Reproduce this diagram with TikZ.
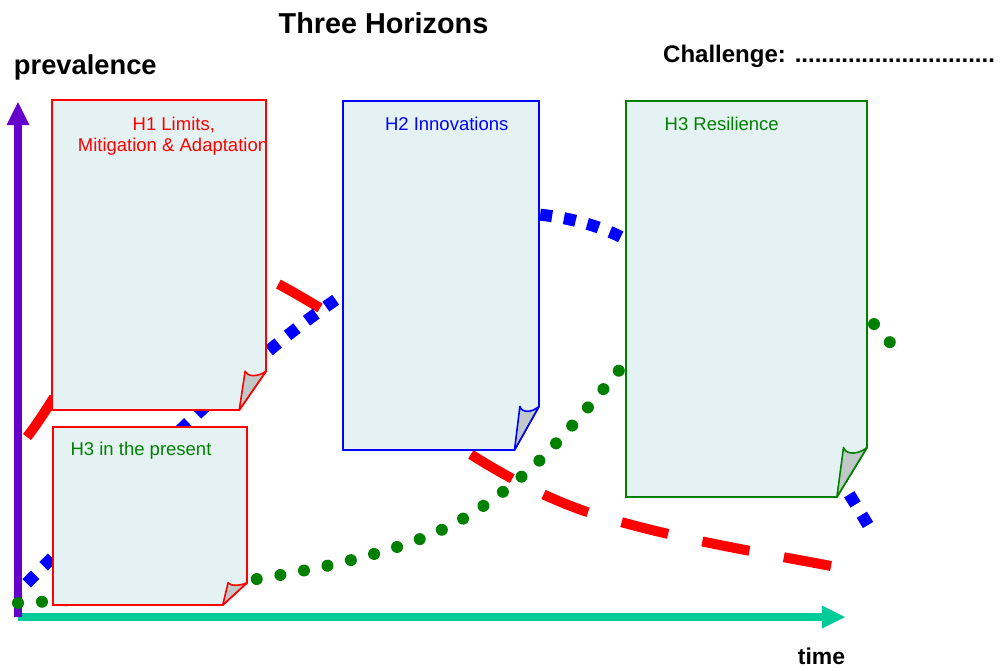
\documentclass[tikz,border=0pt]{standalone}
\usepackage{fontspec}
\setmainfont{Liberation Sans}
\usetikzlibrary{arrows.meta}
\definecolor{hred}{RGB}{255,0,0}
\definecolor{hblue}{RGB}{0,0,255}
\definecolor{hgreen}{RGB}{0,128,0}
\definecolor{axpurple}{RGB}{102,0,204}
\definecolor{axteal}{RGB}{0,204,153}
\definecolor{paperfill}{RGB}{228,242,243}
\definecolor{foldfill}{RGB}{192,200,200}
\newcommand{\foldbox}[5]{%
  \pgfmathsetmacro\fbdx{0.125*(#3-#1)}%
  \pgfmathsetmacro\fbdy{0.125*(#4-#2)}%
  \filldraw[paper, draw=#5] (#1,#2) -- (#3,#2) -- (#3,#4-\fbdy) -- (#3-\fbdx,#4) -- (#1,#4) -- cycle;
  \filldraw[fold, draw=#5] (#3-\fbdx,#4) -- (#3-0.78*\fbdx,#4-\fbdy) .. controls (#3-0.7*\fbdx,#4-0.85*\fbdy) and (#3-0.3*\fbdx,#4-0.85*\fbdy) .. (#3,#4-\fbdy) -- cycle;
}
\tikzset{
  paper/.style={fill=paperfill, line width=1.8pt, line join=miter},
  fold/.style={fill=foldfill, line width=1.6pt, line join=round},
  redcurve/.style={draw=hred, line width=10pt, dash pattern=on 48pt off 35pt},
  bluecurve/.style={draw=hblue, line width=12pt, dash pattern=on 12pt off 12pt},
  greencurve/.style={draw=hgreen, line width=12pt, line cap=round, dash pattern=on 0.01pt off 24pt},
  axisline/.style={line width=7.5pt},
  axarrow/.style={-{Triangle[length=23pt,width=23pt,line width=0pt]}},
  boxlabel/.style={anchor=base, inner sep=0pt, font=\fontsize{18.5}{22}\selectfont},
  boldlabel/.style={anchor=base, inner sep=0pt, text=black},
}
\begin{document}
\begin{tikzpicture}[x=1pt,y=-1pt]
\useasboundingbox (0,0) rectangle (1000,670);
% H1 curve (red, long dashes): drawn in three stretches that meet behind the sheets
\coordinate (rpeak) at (185,255);
\coordinate (rsplit) at (393.5,379.25);
\draw[redcurve] (27,437) .. controls (70,382) and (125,255) .. (rpeak);
\draw[redcurve] (320,308) .. controls (275,281) and (230,255) .. (rpeak);
\draw[redcurve] (831,566) .. controls (754,551.4) and (677,539) .. (600,516)
  .. controls (556,503) and (511,480) .. (467,452)
  .. controls (442.5,436.5) and (418,407.75) .. (rsplit);
% H2 curve (blue, square dots)
\draw[bluecurve] (868,525) .. controls (775,370) and (694,271) .. (617,235)
  .. controls (585,220) and (545,213) .. (510,213)
  .. controls (450,213) and (391,261) .. (331,303)
  .. controls (285,335) and (239,375) .. (193,418)
  .. controls (140,468) and (80,530) .. (18,592);
% axes
\coordinate (O) at (18,617);
\coordinate (ytip) at (18,102);
\coordinate (xtip) at (845,617);
\draw[axisline, axteal, axarrow] (O) -- (xtip);
\draw[axisline, axpurple, axarrow] (O) -- (ytip);
% H3 curve (green, round dots)
\draw[greencurve] (18,603) .. controls (120,598) and (200,590) .. (257,579)
  .. controls (311,570) and (366,559) .. (420,539)
  .. controls (459.7,524.3) and (499.3,498.3) .. (539,461)
  .. controls (568,432) and (597,397) .. (626,362)
  .. controls (706,266) and (787,228) .. (867,316) -- (894,347);
% sheets
\foldbox{52}{100}{266}{410}{hred}
\foldbox{53}{427}{247}{605}{hred}
\foldbox{343}{101}{539}{450}{hblue}
\foldbox{626}{101}{867}{497}{hgreen}
% labels
\node[boxlabel, text=hred] (h1a) at (173.8,130) {H1 Limits,};
\node[boxlabel, text=hred] (h1b) at (173,151.7) {Mitigation \& Adaptation};
\node[boxlabel, text=hblue] (h2) at (446.7,130) {H2 Innovations};
\node[boxlabel, text=hgreen] (h3) at (721.7,130) {H3 Resilience};
\node[boxlabel, text=hgreen] (h3p) at (141,455) {H3 in the present};
\node[boldlabel, font=\bfseries\fontsize{28.8}{34}\selectfont] (title) at (383.5,33.3) {Three Horizons};
\node[boldlabel, font=\bfseries\fontsize{27.3}{32}\selectfont] (prev) at (85.3,74) {prevalence};
\node[boldlabel, anchor=base west, font=\bfseries\fontsize{24}{28}\selectfont] (chal) at (663,62) {Challenge: ..............................};
\node[boldlabel, font=\bfseries\fontsize{22.9}{27}\selectfont] (time) at (821.5,664.5) {time};
\end{tikzpicture}
\end{document}
